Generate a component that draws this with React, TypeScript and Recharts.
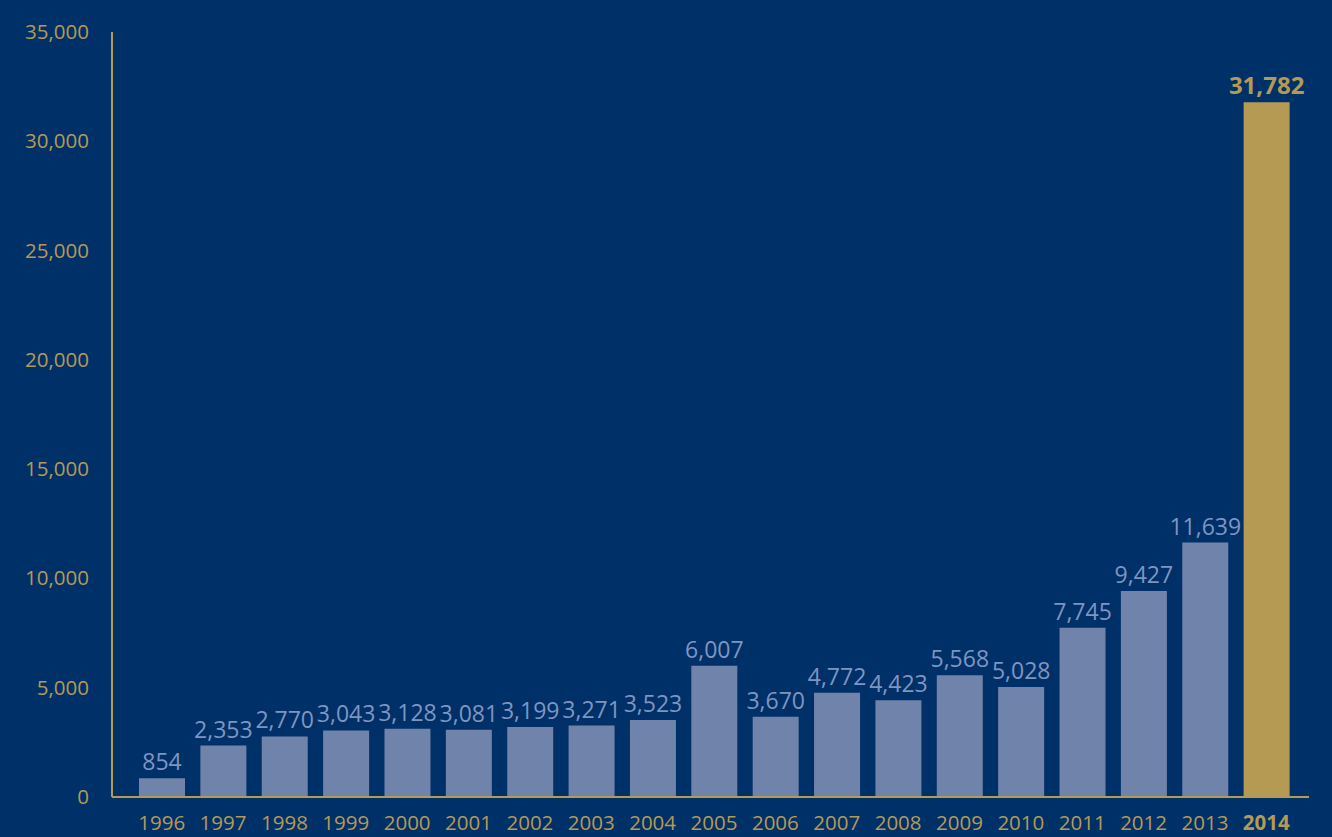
import React from "react";
import { BarChart, Bar, XAxis, YAxis, Cell, LabelList } from "recharts";

const years = ["1996","1997","1998","1999","2000","2001","2002","2003","2004","2005","2006","2007","2008","2009","2010","2011","2012","2013","2014"];
const values = [854,2353,2770,3043,3128,3081,3199,3271,3523,6007,3670,4772,4423,5568,5028,7745,9427,11639,31782];
const yTicks = [0,5000,10000,15000,20000,25000,30000,35000];
const highlightYear = "2014";

const data = years.map((y, i) => ({ year: y, value: values[i] }));

const BG = "#003068";
const GOLD = "#b59a53";
const BAR = "#7083ab";
const LABEL = "#7f95c1";
const FONT = "'Open Sans', sans-serif";

const fmt = (v: number) => v.toLocaleString("en-US");

const ValueLabel = (props: any) => {
  const { x, y, width, value, index } = props;
  const hl = years[index] === highlightYear;
  return (
    <text
      x={x + width / 2}
      y={y - 8}
      textAnchor="middle"
      fill={hl ? GOLD : LABEL}
      fontSize={hl ? 24 : 23}
      fontWeight={hl ? 700 : 400}
      fontFamily={FONT}
    >
      {fmt(value)}
    </text>
  );
};

const XTick = (props: any) => {
  const { x, y, payload } = props;
  const hl = payload.value === highlightYear;
  return (
    <text
      x={x}
      y={y + 25}
      textAnchor="middle"
      fill={GOLD}
      fontSize={20.5}
      fontWeight={hl ? 700 : 400}
      fontFamily={FONT}
    >
      {payload.value}
    </text>
  );
};

const YTick = (props: any) => {
  const { y, payload } = props;
  return (
    <text
      x={89}
      y={y + 7}
      textAnchor="end"
      fill={GOLD}
      fontSize={20.5}
      fontFamily={FONT}
    >
      {fmt(payload.value)}
    </text>
  );
};

export default function App() {
  return (
    <div style={{ position: "absolute", left: 0, top: 0, width: 1332, height: 837, background: BG }}>
      <BarChart
        width={1332}
        height={837}
        data={data}
        margin={{ top: 32, right: 23, bottom: 0, left: 0 }}
        barCategoryGap={0}
      >
        <XAxis
          dataKey="year"
          axisLine={{ stroke: GOLD, strokeWidth: 2 }}
          tickLine={false}
          tick={<XTick />}
          interval={0}
          padding={{ left: 19, right: 12 }}
          height={40}
        />
        <YAxis
          width={112}
          domain={[0, 35000]}
          ticks={yTicks}
          axisLine={{ stroke: GOLD, strokeWidth: 2 }}
          tickLine={false}
          tick={<YTick />}
          interval={0}
        />
        <Bar dataKey="value" barSize={46} isAnimationActive={false}>
          {data.map((d) => (
            <Cell key={d.year} fill={d.year === highlightYear ? GOLD : BAR} />
          ))}
          <LabelList dataKey="value" content={<ValueLabel />} />
        </Bar>
      </BarChart>
    </div>
  );
}
